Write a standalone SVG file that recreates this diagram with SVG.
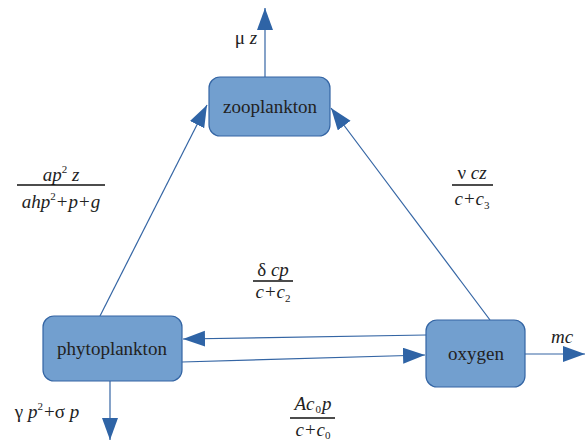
<svg xmlns="http://www.w3.org/2000/svg" width="586" height="441" viewBox="0 0 586 441">
<style>
.node{fill:#729fcf;stroke:#3465a4;stroke-width:1.2}
.lbl{font-family:"Liberation Serif",serif;font-size:19px;fill:#222;text-anchor:middle}
.m{font-family:"Liberation Serif",serif;font-size:19px;font-style:italic;fill:#222;text-anchor:middle}
.r{font-style:normal}
.s{font-size:11px;font-style:normal}
.conn{stroke:#3465a4;stroke-width:1.2;fill:none;marker-end:url(#ah)}
.bar{stroke:#111;stroke-width:1.5}
</style>
<defs>
<marker id="ah" markerUnits="userSpaceOnUse" markerWidth="24" markerHeight="18" refX="22" refY="8" orient="auto">
<path d="M0,0 L22,8 L0,16 z" fill="#2f64a6"/>
</marker>
</defs>
<g id="connectors">
<line class="conn" x1="265" y1="77" x2="265" y2="8"/>
<line class="conn" x1="100" y1="316" x2="207" y2="105"/>
<line class="conn" x1="490" y1="320" x2="331" y2="108"/>
<line class="conn" x1="426" y1="335" x2="183" y2="339"/>
<line class="conn" x1="182" y1="362" x2="425" y2="355"/>
<line class="conn" x1="525" y1="354" x2="585" y2="354"/>
<line class="conn" x1="110" y1="381" x2="110" y2="440"/>
</g>
<g id="zooplankton">
<rect class="node" x="209" y="77" width="121" height="59" rx="11"/>
<text class="lbl" x="270" y="113">zooplankton</text>
</g>
<g id="phytoplankton">
<rect class="node" x="43" y="316" width="139" height="65" rx="11"/>
<text class="lbl" x="112" y="355">phytoplankton</text>
</g>
<g id="oxygen">
<rect class="node" x="426" y="320" width="99" height="67" rx="11"/>
<text class="lbl" x="476" y="360">oxygen</text>
</g>
<g id="labels">
<text class="m" x="246" y="44"><tspan class="r">μ</tspan> z</text>
<text class="m" x="61" y="181">ap<tspan class="s" dy="-8">2</tspan><tspan dy="8"> z</tspan></text>
<line class="bar" x1="17" y1="185" x2="105" y2="185"/>
<text class="m" x="61" y="208">ahp<tspan class="s" dy="-8">2</tspan><tspan class="r" dy="8" dx="1">+</tspan><tspan dx="1">p</tspan><tspan class="r" dx="1">+</tspan><tspan dx="1">g</tspan></text>
<text class="m" x="472" y="179"><tspan class="r">ν</tspan> cz</text>
<line class="bar" x1="452" y1="185" x2="493" y2="185"/>
<text class="m" x="472" y="205">c<tspan class="r" dx="1">+</tspan><tspan dx="1">c</tspan><tspan class="s" dy="4">3</tspan></text>
<text class="m" x="273" y="276"><tspan class="r">δ</tspan> cp</text>
<line class="bar" x1="253" y1="281" x2="293" y2="281"/>
<text class="m" x="273" y="298">c<tspan class="r" dx="1">+</tspan><tspan dx="1">c</tspan><tspan class="s" dy="4">2</tspan></text>
<text class="m" x="313" y="410">Ac<tspan class="s" dy="3" dx="1">0</tspan><tspan dy="-3" dx="1">p</tspan></text>
<line class="bar" x1="290" y1="418" x2="335" y2="418"/>
<text class="m" x="313" y="436">c<tspan class="r" dx="1">+</tspan><tspan dx="1">c</tspan><tspan class="s" dy="3">0</tspan></text>
<text class="m" x="47" y="418"><tspan class="r">γ</tspan> p<tspan class="s" dy="-8">2</tspan><tspan class="r" dy="8" dx="1">+σ</tspan> p</text>
<text class="m" x="562" y="343">mc</text>
</g>
</svg>
